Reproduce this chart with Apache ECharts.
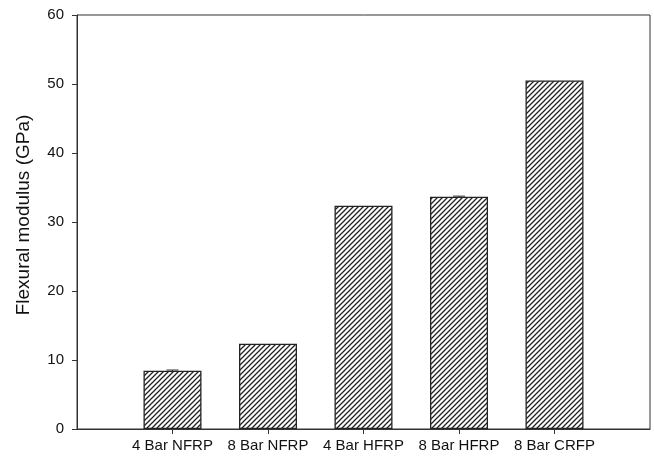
<!DOCTYPE html>
<html>
<head>
<meta charset="utf-8">
<script src="https://cdn.jsdelivr.net/npm/echarts@6/dist/echarts.min.js"></script>
<style>html,body{margin:0;padding:0;background:#fff}#c{width:654px;height:461px}</style>
</head>
<body>
<div id="c"></div>
<script>
const categories = ['4 Bar NFRP', '8 Bar NFRP', '4 Bar HFRP', '8 Bar HFRP', '8 Bar CRFP'];
const values = [8.45, 12.35, 32.35, 33.65, 50.5];
const errors = [0.1, 0, 0, 0.1, 0];
const yTicks = [0, 10, 20, 30, 40, 50, 60];

function hatch() {
  const s = 5;
  const c = document.createElement('canvas');
  c.width = s; c.height = s;
  const g = c.getContext('2d');
  g.fillStyle = '#fff'; g.fillRect(0, 0, s, s);
  g.strokeStyle = '#222'; g.lineWidth = 1.3;
  g.beginPath();
  g.moveTo(-1, s + 1); g.lineTo(s + 1, -1);
  g.moveTo(-1, 1); g.lineTo(1, -1);
  g.moveTo(s - 1, s + 1); g.lineTo(s + 1, s - 1);
  g.stroke();
  return c;
}

const positions = categories.map((c, i) => i + 1);
const barData = values.map((v, i) => [positions[i], v]);
const errData = values.map((v, i) => [positions[i], v, errors[i]]);

const chart = echarts.init(document.getElementById('c'));
const font = 'Liberation Sans, Arial, sans-serif';
chart.setOption({
  animation: false,
  grid: { left: 77, right: 4, top: 15, bottom: 32, show: true, borderColor: '#333', borderWidth: 1, backgroundColor: 'transparent' },
  xAxis: {
    type: 'value', min: 0, max: 6, interval: 1,
    axisLine: { show: true, onZero: false, lineStyle: { color: '#333', width: 1 } },
    axisTick: { show: true, customValues: positions, length: 5, lineStyle: { color: '#333' } },
    axisLabel: { customValues: positions, formatter: v => categories[Math.round(v) - 1] || '', color: '#111', fontFamily: font, fontSize: 15, margin: 9 },
    splitLine: { show: false }
  },
  yAxis: {
    type: 'value', min: 0, max: 60, interval: 10,
    name: 'Flexural modulus (GPa)', nameLocation: 'middle', nameGap: 44,
    nameTextStyle: { color: '#111', fontFamily: font, fontSize: 19, padding: [0, 0, 0, 14] },
    axisLine: { show: true, lineStyle: { color: '#333', width: 1 } },
    axisTick: { show: true, length: 5, lineStyle: { color: '#333' } },
    axisLabel: { customValues: yTicks, color: '#111', fontFamily: font, fontSize: 15, margin: 13 },
    splitLine: { show: false }
  },
  series: [
    {
      type: 'bar', data: barData, barWidth: 58,
      itemStyle: { color: { image: hatch(), repeat: 'repeat' }, borderColor: '#222', borderWidth: 1.3 }
    },
    {
      type: 'custom', data: errData, z: 5,
      renderItem: (params, api) => {
        const e = api.value(2);
        if (!e) return null;
        const x = api.value(0), v = api.value(1);
        const top = api.coord([x, v + e]);
        const bot = api.coord([x, v - e]);
        return { type: 'group', children: [
          { type: 'line', shape: { x1: top[0] - 6, y1: top[1], x2: top[0] + 6, y2: top[1] }, style: { stroke: '#333', lineWidth: 1 } },
          { type: 'line', shape: { x1: top[0], y1: top[1], x2: bot[0], y2: bot[1] }, style: { stroke: '#333', lineWidth: 1 } }
        ]};
      }
    }
  ]
});
</script>
</body>
</html>
